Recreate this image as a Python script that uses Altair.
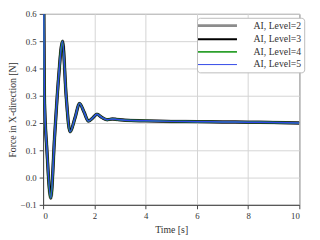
import altair as alt
import pandas as pd

series = ["AI, Level=2", "AI, Level=3", "AI, Level=4", "AI, Level=5"]
colors = ["#8c8c8c", "#000000", "#2ca02c", "#2f47e6"]
widths = [3.6, 3.0, 2.0, 1.5]

time = [0.0, 0.02, 0.05, 0.15, 0.3, 0.45, 0.6, 0.76, 0.9, 1.05, 1.25, 1.42,
        1.6, 1.77, 1.93, 2.1, 2.3, 2.5, 2.7, 2.9, 3.2, 4.0, 5.0, 6.0, 7.0, 8.0, 9.0, 10.0]
force = [1.5, 0.75, 0.3, 0.1, -0.075, 0.15, 0.36, 0.5, 0.3, 0.168, 0.22, 0.272,
         0.24, 0.207, 0.218, 0.232, 0.22, 0.212, 0.215, 0.213, 0.21, 0.208, 0.206, 0.205,
         0.204, 0.203, 0.202, 0.2]

rows = []
for s in series:
    for t, f in zip(time, force):
        rows.append({"series": s, "t": t, "f": f})
df = pd.DataFrame(rows)

serif = "Liberation Serif"

legend_widths = [3.0, 2.2, 1.6, 1.0]
width_expr = " : ".join(
    f"datum.value == '{s}' ? {w}" for s, w in zip(series[:-1], legend_widths[:-1])
) + f" : {legend_widths[-1]}"

legend = alt.Legend(orient="none", legendX=158, legendY=4,
                    symbolType="M-4,0H4", symbolSize=100, symbolOffset=13,
                    labelFont=serif, labelFontSize=10, labelColor="#333333",
                    fillColor="white", strokeColor="#bbbbbb",
                    padding=3, cornerRadius=3, rowPadding=3,
                    labelOffset=32,
                    symbolStrokeWidth={"expr": width_expr})

base = alt.Chart(df)
layers = []
for i, (s, w) in enumerate(zip(series, widths)):
    layers.append(
        base.transform_filter(alt.datum.series == s)
        .mark_line(clip=True, interpolate="monotone", strokeWidth=w)
        .encode(
            x=alt.X("t:Q", title="Time [s]",
                    scale=alt.Scale(domain=[0, 10], nice=False),
                    axis=alt.Axis(values=[0, 2, 4, 6, 8, 10], format="d")),
            y=alt.Y("f:Q", title="Force in X-direction [N]",
                    scale=alt.Scale(domain=[-0.1, 0.6], nice=False),
                    axis=alt.Axis(values=[-0.1, 0, 0.1, 0.2, 0.3, 0.4, 0.5, 0.6], format=".1f",
                                  titleX=-31, titleY=98, titleAlign="center",
                                  titleBaseline="middle", titleAngle=270)),
            color=alt.Color("series:N", title=None,
                            scale=alt.Scale(domain=series, range=colors),
                            legend=legend),
        )
    )

chart = alt.layer(*layers).properties(
    width=263, height=196,
    autosize="none",
    padding={"left": 36, "top": 3, "right": 13, "bottom": 33},
).configure_view(
    stroke="#444444", strokeWidth=1
).configure_axis(
    labelFont=serif, titleFont=serif, labelFontSize=9, titleFontSize=10,
    titleFontWeight="normal", labelColor="#333333", titleColor="#333333",
    domainColor="#444444", tickColor="#444444", tickSize=4,
    gridColor="#d4d4d4", gridWidth=1, labelPadding=3,
).configure_axisX(
    titlePadding=4
)

chart.save("out.html", embed_options={"renderer": "svg", "actions": False})
